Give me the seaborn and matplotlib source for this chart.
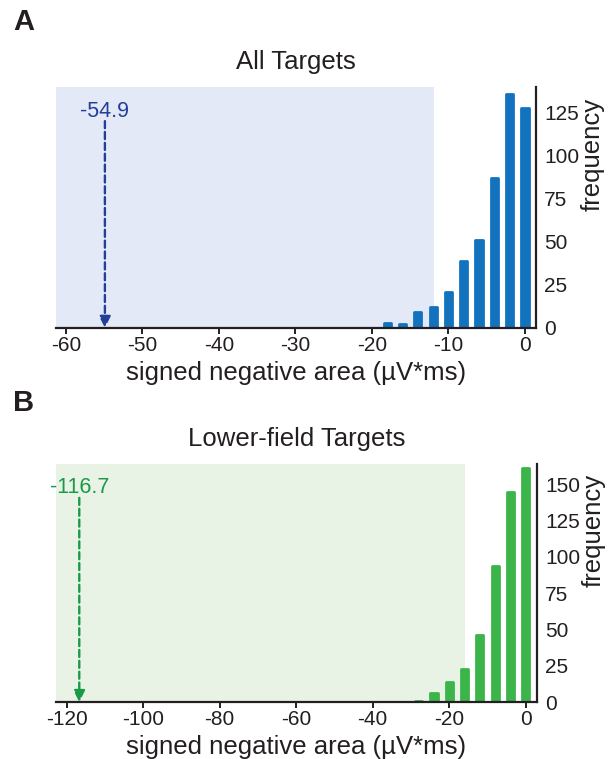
import numpy as np
import pandas as pd
import matplotlib
matplotlib.use("Agg")
import matplotlib.pyplot as plt
import seaborn as sns

# --- data ---
a_bins = [-18, -16, -14, -12, -10, -8, -6, -4, -2, 0]
a_counts = [3, 2, 9, 12, 21, 39, 51, 87, 136, 128]
b_bins = [-28, -24, -20, -16, -12, -8, -4, 0]
b_counts = [1, 6, 14, 23, 46, 94, 145, 161]

titles = ["All Targets", "Lower-field Targets"]
panel_letters = ["A", "B"]
observed = [-54.9, -116.7]          # value marked by the dashed arrow
thresholds = [-11.9, -15.9]         # right edge of the shaded region
xlims = [(-61.3, 1.4), (-122.8, 2.9)]
ylims = [(0, 140), (0, 164)]
xticks = [np.arange(-60, 1, 10), np.arange(-120, 1, 20)]
yticks = [np.arange(0, 126, 25), np.arange(0, 151, 25)]

bar_colors = ["#1272be", "#3bb54a"]
shade_colors = ["#e3e9f6", "#e8f3e6"]
mark_colors = ["#243f9a", "#1a9a48"]
ink = "#231f20"

sns.set_theme(style="ticks")
plt.rcParams["font.family"] = ["Liberation Sans", "DejaVu Sans"]
plt.rcParams["text.color"] = ink
plt.rcParams["axes.labelcolor"] = ink
plt.rcParams["xtick.color"] = ink
plt.rcParams["ytick.color"] = ink

fig = plt.figure(figsize=(6.08, 7.59), dpi=100)
ax_a = fig.add_axes([0.092, 0.568, 0.789, 0.3175])
ax_b = fig.add_axes([0.092, 0.075, 0.791, 0.3136])

panels = [(ax_a, a_bins, a_counts), (ax_b, b_bins, b_counts)]

for i, (ax, bins, counts) in enumerate(panels):
    df = pd.DataFrame({"area": bins, "count": counts})

    # shaded region first so bars sit on top
    ax.axvspan(xlims[i][0], thresholds[i], facecolor=shade_colors[i], lw=0, zorder=0)
    n_before = len(ax.patches)

    sns.barplot(data=df, x="area", y="count", native_scale=True, width=0.47,
                color=bar_colors[i], saturation=1, errorbar=None, ax=ax, zorder=2)
    # slightly rounded bar ends
    for p in ax.patches[n_before:]:
        p.set_edgecolor(bar_colors[i])
        p.set_linewidth(2)
        p.set_joinstyle("round")

    # dashed arrow to the observed value
    ax.annotate("", xy=(observed[i], 0), xycoords=("data", "axes fraction"),
                xytext=(observed[i], 0.858), textcoords=("data", "axes fraction"),
                arrowprops=dict(arrowstyle="-|>", color=mark_colors[i], lw=1.7,
                                ls=(0, (3, 1.6)), mutation_scale=17,
                                shrinkA=0, shrinkB=0),
                zorder=3)
    ax.text(observed[i], 0.9, f"{observed[i]:.1f}", transform=ax.get_xaxis_transform(),
            ha="center", va="center", color=mark_colors[i], fontsize=15.5)

    ax.set_xlim(*xlims[i])
    ax.set_ylim(*ylims[i])
    ax.set_xticks(xticks[i])
    ax.set_xticklabels([str(v) for v in xticks[i]])
    ax.set_yticks(yticks[i])

    ax.yaxis.tick_right()
    ax.yaxis.set_label_position("right")
    sns.despine(ax=ax, left=True, right=False, top=True)
    for side in ["bottom", "right"]:
        ax.spines[side].set_linewidth(1.6)
        ax.spines[side].set_color(ink)
    ax.tick_params(axis="both", labelsize=15, width=1.4, length=4, pad=2)

    ax.set_xlabel("signed negative area (µV*ms)", fontsize=18.5, labelpad=4)
    ax.set_ylabel("frequency", fontsize=18.5)
    ax.yaxis.set_label_coords(1.093, 0.72)
    ax.set_title(titles[i], fontsize=18.5, pad=13)

fig.text(0.022, 0.960, panel_letters[0], fontsize=21, fontweight="bold", va="baseline")
fig.text(0.022, 0.4585, panel_letters[1], fontsize=21, fontweight="bold", va="baseline")

plt.savefig("out.png", dpi=100)
